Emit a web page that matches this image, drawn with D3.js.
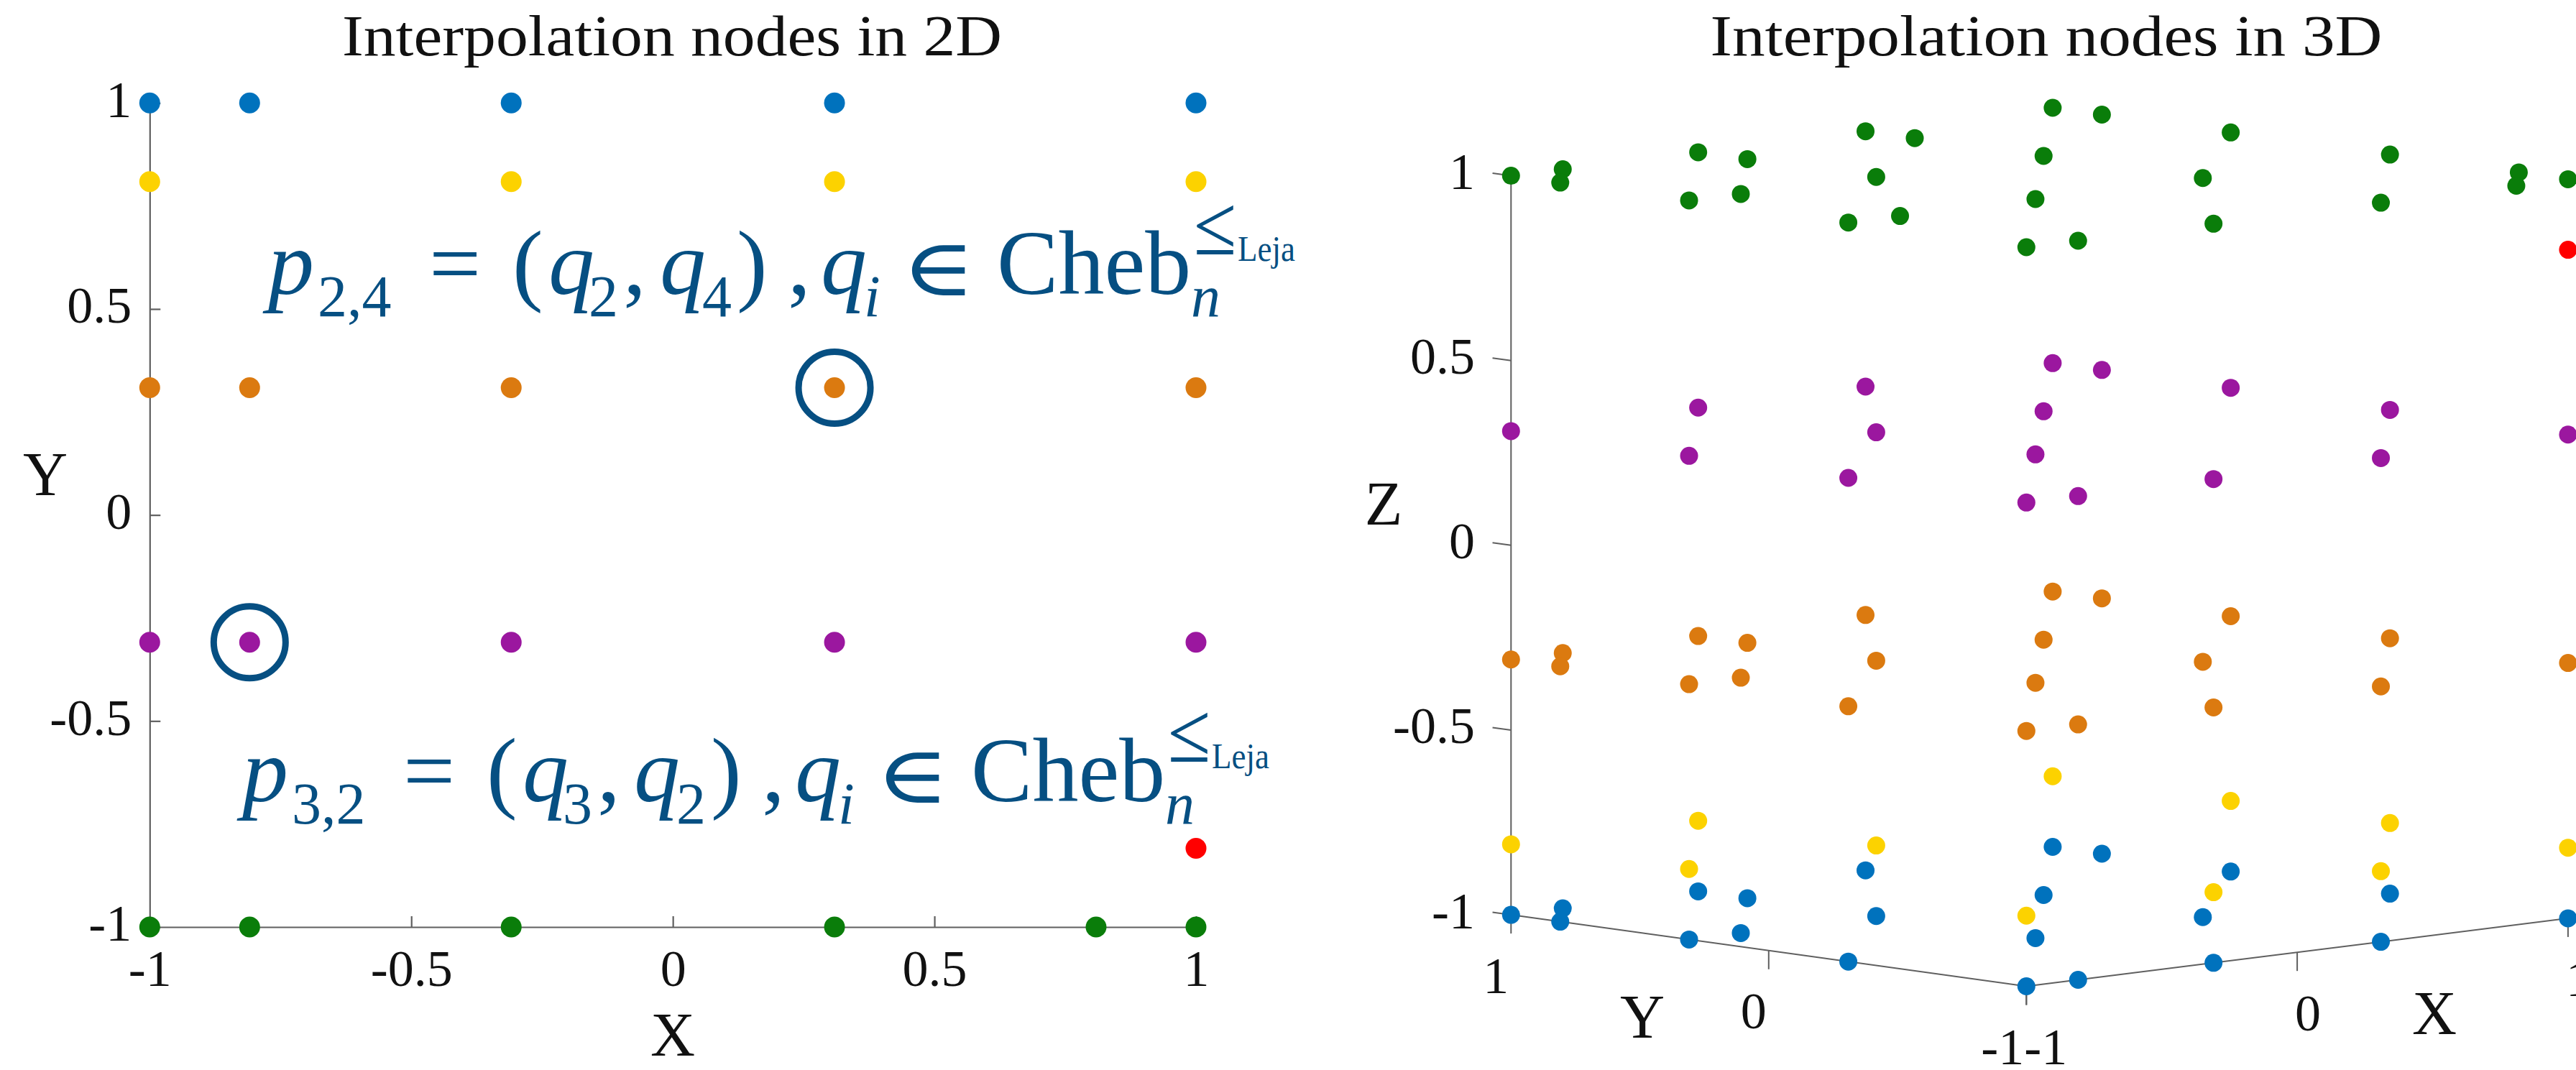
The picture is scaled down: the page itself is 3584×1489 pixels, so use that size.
<!DOCTYPE html>
<html>
<head>
<meta charset="utf-8">
<script src="https://cdn.jsdelivr.net/npm/d3@7"></script>
<style>
  html, body { margin: 0; padding: 0; background: #ffffff; overflow: hidden; }
  svg { display: block; }
</style>
</head>
<body>
<svg id="fig" width="3584" height="1489"></svg>
<script>
// ---------------------------------------------------------------
// Node data
// ---------------------------------------------------------------

// 2D nodes, one row per Y value; each row lists its X values
const rowY2D = [1, 0.809, 0.309, -0.309, -0.809, -1];
const rowX2D = [
  [-1, -0.809, -0.309, 0.309, 1],
  [-1, -0.309, 0.309, 1],
  [-1, -0.809, -0.309, 0.309, 1],
  [-1, -0.809, -0.309, 0.309, 1],
  [1],
  [-1, -0.809, -0.309, 0.309, 0.809, 1]
];
const rowColor2D = ["#0072bd", "#fcd200", "#db7a10", "#9b179f", "#ff0000", "#0a7d0a"];

// 3D nodes, one layer per Z value; each layer lists its (X, Y) pairs
const layerZ3D = [1, 0.809, 0.309, -0.309, -0.809, -1];
const layerXY3D = [
  [[-1,1],[-0.809,1],[-0.309,1],[0.309,1],[1,1],
   [-1,0.809],[-0.309,0.809],[0.309,0.809],[1,0.809],
   [-1,0.309],[-0.809,0.309],[-0.309,0.309],[0.309,0.309],[1,0.309],
   [-1,-0.309],[-0.809,-0.309],[-0.309,-0.309],[0.309,-0.309],[1,-0.309],
   [1,-0.809],
   [-1,-1],[-0.809,-1],[-0.309,-1],[0.309,-1],[0.809,-1],[1,-1]],
  [[1,-1]],
  [[-1,1],[-0.309,1],[0.309,1],[1,1],
   [1,0.809],
   [-1,0.309],[-0.309,0.309],[0.309,0.309],[1,0.309],
   [-1,-0.309],[-0.309,-0.309],[1,-0.309],
   [-1,-1],[-0.809,-1],[-0.309,-1],[0.309,-1],[1,-1]],
  [[-1,1],[-0.809,1],[-0.309,1],[0.309,1],[1,1],
   [-1,0.809],[-0.309,0.809],[1,0.809],
   [-1,0.309],[-0.809,0.309],[-0.309,0.309],[0.309,0.309],[1,0.309],
   [-1,-0.309],[-0.309,-0.309],[0.309,-0.309],[1,-0.309],
   [-1,-1],[-0.809,-1],[-0.309,-1],[0.309,-1],[1,-1]],
  [[-1,1],[-0.309,1],[1,1],
   [-1,0.309],[-0.309,0.309],[1,0.309],
   [1,-0.309],
   [-1,-1],[-0.309,-1],[0.309,-1],[1,-1]],
  [[-1,1],[-0.809,1],[-0.309,1],[0.309,1],[1,1],
   [-1,0.809],[-0.309,0.809],[1,0.809],
   [-1,0.309],[-0.809,0.309],[-0.309,0.309],[0.309,0.309],[1,0.309],
   [-1,-0.309],[-0.309,-0.309],[0.309,-0.309],[1,-0.309],
   [-1,-1],[-0.809,-1],[-0.309,-1],[0.309,-1],[1,-1]]
];
const layerColor3D = ["#0a7d0a", "#ff0000", "#9b179f", "#db7a10", "#fcd200", "#0072bd"];

// axis ticks
const ticks2D = [-1, -0.5, 0, 0.5, 1];
const tickLabels2D = ["-1", "-0.5", "0", "0.5", "1"];
const ticksZ3D = [-1, -0.5, 0, 0.5, 1];
const tickLabelsZ3D = ["-1", "-0.5", "0", "0.5", "1"];
const ticksXY3D = [-1, 0, 1];
const tickLabelsXY3D = ["-1", "0", "1"];

// highlighted 2D nodes and their annotations
const highlighted2D = [[0.309, 0.309], [-0.809, -0.309]];
const annotationIdx = [
  { p: "2,4", a: "2", b: "4" },
  { p: "3,2", a: "3", b: "2" }
];

// ---------------------------------------------------------------
// Styling
// ---------------------------------------------------------------
const SERIF = "'Liberation Serif', 'Times New Roman', serif";
const INK = "#111111";
const AXIS = "#5f5f5f";
const NOTE = "#064f82";
const TICK_FS = 72;
const LABEL_FS = 86;

const svg = d3.select("#fig");
svg.append("rect").attr("width", 3584).attr("height", 1489).attr("fill", "#ffffff");

// ink extents of a glyph, measured on a canvas at 100px
const measureCtx = document.createElement("canvas").getContext("2d");
function inkBox(str, family) {
  measureCtx.font = `100px ${family}`;
  const m = measureCtx.measureText(str);
  return {
    left: m.actualBoundingBoxLeft, right: m.actualBoundingBoxRight,
    ascent: m.actualBoundingBoxAscent, descent: m.actualBoundingBoxDescent
  };
}

// ---------------------------------------------------------------
// Left panel: 2D nodes
// ---------------------------------------------------------------
const x2 = d3.scaleLinear().domain([-1, 1]).range([208.3, 1664]);
const y2 = d3.scaleLinear().domain([-1, 1]).range([1290, 143.3]);

const g2 = svg.append("g");

g2.append("text")
  .attr("x", 935).attr("y", 77)
  .attr("text-anchor", "middle")
  .attr("font-family", SERIF).attr("font-size", 80).attr("fill", INK)
  .attr("textLength", 918).attr("lengthAdjust", "spacingAndGlyphs")
  .text("Interpolation nodes in 2D");

const xAxis2 = g2.append("g")
  .attr("transform", `translate(0,${y2(-1)})`)
  .call(d3.axisBottom(x2).tickValues(ticks2D)
        .tickFormat((d, i) => tickLabels2D[i])
        .tickSizeInner(-15).tickSizeOuter(0).tickPadding(31));
const yAxis2 = g2.append("g")
  .attr("transform", `translate(${x2(-1)},0)`)
  .call(d3.axisLeft(y2).tickValues(ticks2D)
        .tickFormat((d, i) => tickLabels2D[i])
        .tickSizeInner(-15).tickSizeOuter(0).tickPadding(25));

[xAxis2, yAxis2].forEach(ax => {
  ax.select(".domain").attr("stroke", AXIS).attr("stroke-width", 2.2);
  ax.selectAll(".tick line").attr("stroke", AXIS).attr("stroke-width", 2.2);
  ax.selectAll(".tick text")
    .attr("font-family", SERIF).attr("font-size", TICK_FS).attr("fill", INK);
});
yAxis2.selectAll(".tick text").attr("dy", "0.26em");

g2.append("text")
  .attr("x", 936).attr("y", 1440).attr("dy", "0.34em")
  .attr("text-anchor", "middle")
  .attr("font-family", SERIF).attr("font-size", LABEL_FS).attr("fill", INK)
  .text("X");
g2.append("text")
  .attr("x", 63).attr("y", 660).attr("dy", "0.34em")
  .attr("text-anchor", "middle")
  .attr("font-family", SERIF).attr("font-size", LABEL_FS).attr("fill", INK)
  .text("Y");

const pts2D = [];
rowY2D.forEach((yv, r) => rowX2D[r].forEach(xv => pts2D.push({ x: xv, y: yv, c: rowColor2D[r] })));

g2.append("g").selectAll("circle").data(pts2D).join("circle")
  .attr("cx", d => x2(d.x)).attr("cy", d => y2(d.y))
  .attr("r", 14.5).attr("fill", d => d.c);

// ring marks around the highlighted nodes
g2.append("g").selectAll("circle").data(highlighted2D).join("circle")
  .attr("cx", d => x2(d[0])).attr("cy", d => y2(d[1]))
  .attr("r", 50).attr("fill", "none")
  .attr("stroke", NOTE).attr("stroke-width", 9);

// formula annotations: p_{i,j} = (q_i, q_j), q_i in Cheb_n^{<=Leja}
function formula(sel, ids, x0, y0) {
  const parts = [
    { t: "p",    dx: 0,    dy: 0,   fs: 128, it: true },
    { t: ids.p,  dx: 69,   dy: 31,  fs: 82 },
    { t: "=",    dx: 224,  dy: 0,   fs: 128 },
    { t: "(",    dx: 340,  dy: 0,   fs: 128 },
    { t: "q",    dx: 390,  dy: 0,   fs: 128, it: true },
    { t: ids.a,  dx: 446,  dy: 31,  fs: 82 },
    { t: ",",    dx: 494,  dy: 0,   fs: 128 },
    { t: "q",    dx: 545,  dy: 0,   fs: 128, it: true },
    { t: ids.b,  dx: 604,  dy: 31,  fs: 82 },
    { t: ")",    dx: 652,  dy: 0,   fs: 128 },
    { t: ",",    dx: 723,  dy: 0,   fs: 128 },
    { t: "q",    dx: 769,  dy: 0,   fs: 128, it: true },
    { t: "i",    dx: 829,  dy: 31,  fs: 82,  it: true },
    { t: "Cheb", dx: 1014, dy: 0,   fs: 128 },
    { t: "n",    dx: 1284, dy: 31,  fs: 82,  it: true },
    { t: "Leja", dx: 1349, dy: -46, fs: 50,  len: 80 }
  ];
  // symbols fitted to an ink box [left, top, right, bottom] relative to the anchor
  const symbols = [
    { t: "\u2208", font: "'DejaVu Serif'",     box: [895, -68, 970, 2] },
    { t: "\u2264", font: "'Liberation Serif'", box: [1292, -124, 1343, -55] }
  ];
  const g = sel.append("g")
    .attr("font-family", SERIF).attr("fill", NOTE);
  parts.forEach(p => {
    const t = g.append("text")
      .attr("x", x0 + p.dx).attr("y", y0 + p.dy)
      .attr("font-size", p.fs)
      .attr("font-style", p.it ? "italic" : "normal")
      .text(p.t);
    if (p.len) t.attr("textLength", p.len).attr("lengthAdjust", "spacingAndGlyphs");
  });
  symbols.forEach(s => {
    const ink = inkBox(s.t, s.font);
    const [l, tp, r, b] = s.box;
    const fs = 100 * (b - tp) / (ink.ascent + ink.descent);
    const k = fs / 100;
    const sx = (r - l) / ((ink.left + ink.right) * k);
    const left = x0 + l;
    g.append("text")
      .attr("transform", `translate(${left},0) scale(${sx},1) translate(${-left},0)`)
      .attr("x", left + ink.left * k)
      .attr("y", y0 + tp + ink.ascent * k)
      .attr("font-family", s.font)
      .attr("font-size", fs)
      .text(s.t);
  });
}
formula(g2, annotationIdx[0], 373, 409);
formula(g2, annotationIdx[1], 337, 1115);

// ---------------------------------------------------------------
// Right panel: 3D nodes in an oblique projection
// ---------------------------------------------------------------
const O3 = [2837.6, 1275.5];                 // screen position of (0, 0, -1)
const pXx = d3.scaleLinear().domain([-1, 1]).range([-376.8, 376.8]);
const pXy = d3.scaleLinear().domain([-1, 1]).range([47.3, -47.3]);
const pYx = d3.scaleLinear().domain([-1, 1]).range([358.5, -358.5]);
const pYy = d3.scaleLinear().domain([-1, 1]).range([49.7, -49.7]);
const pZ  = d3.scaleLinear().domain([-1, 1]).range([0, -1028.5]);
const proj = (X, Y, Z) => [O3[0] + pXx(X) + pYx(Y), O3[1] + pXy(X) + pYy(Y) + pZ(Z)];

const g3 = svg.append("g");

g3.append("text")
  .attr("x", 2847).attr("y", 77)
  .attr("text-anchor", "middle")
  .attr("font-family", SERIF).attr("font-size", 80).attr("fill", INK)
  .attr("textLength", 935).attr("lengthAdjust", "spacingAndGlyphs")
  .text("Interpolation nodes in 3D");

const line = d3.line();
const axisSegs = [
  [proj(-1, 1, -1), proj(-1, 1, 1)],     // Z axis
  [proj(-1, 1, -1), proj(-1, -1, -1)],   // Y axis
  [proj(-1, -1, -1), proj(1, -1, -1)]    // X axis
];
g3.append("g").selectAll("path").data(axisSegs).join("path")
  .attr("d", d => line(d)).attr("fill", "none")
  .attr("stroke", AXIS).attr("stroke-width", 2);

// tick marks
const TL = 26;
const yDir = [pYx(1) - pYx(0), pYy(1) - pYy(0)];
const yLen = Math.hypot(yDir[0], yDir[1]);
const zTickSegs = ticksZ3D.map(z => {
  const b = proj(-1, 1, z);
  return [b, [b[0] + yDir[0] / yLen * TL, b[1] + yDir[1] / yLen * TL]];
});
const yTickSegs = ticksXY3D.map(v => { const b = proj(-1, v, -1); return [b, [b[0], b[1] + TL]]; });
const xTickSegs = ticksXY3D.map(v => { const b = proj(v, -1, -1); return [b, [b[0], b[1] + TL]]; });
g3.append("g").selectAll("path").data([...zTickSegs, ...yTickSegs, ...xTickSegs]).join("path")
  .attr("d", d => line(d)).attr("fill", "none")
  .attr("stroke", AXIS).attr("stroke-width", 2);

// tick labels
const tickText = (sel) => sel.attr("font-family", SERIF).attr("font-size", TICK_FS).attr("fill", INK);
g3.append("g").selectAll("text").data(ticksZ3D).join("text")
  .call(tickText)
  .attr("x", 2052).attr("y", d => proj(-1, 1, d)[1] - 6).attr("dy", "0.34em")
  .attr("text-anchor", "end")
  .text((d, i) => tickLabelsZ3D[i]);
g3.append("g").selectAll("text").data(ticksXY3D).join("text")
  .call(tickText)
  .attr("x", d => proj(-1, d, -1)[0] - 3).attr("y", d => proj(-1, d, -1)[1] + 84).attr("dy", "0.34em")
  .attr("text-anchor", "end")
  .text((d, i) => tickLabelsXY3D[i]);
g3.append("g").selectAll("text").data(ticksXY3D).join("text")
  .call(tickText)
  .attr("x", d => proj(d, -1, -1)[0] - 3).attr("y", d => proj(d, -1, -1)[1] + 84).attr("dy", "0.34em")
  .attr("text-anchor", "start")
  .text((d, i) => tickLabelsXY3D[i]);

// axis labels
[["Z", 1925, 701], ["Y", 2285, 1415], ["X", 3387, 1410]].forEach(([s, x, y]) => {
  g3.append("text").attr("x", x).attr("y", y).attr("dy", "0.34em")
    .attr("text-anchor", "middle")
    .attr("font-family", SERIF).attr("font-size", LABEL_FS).attr("fill", INK)
    .text(s);
});

const pts3D = [];
layerZ3D.forEach((z, l) => layerXY3D[l].forEach(([x, y]) => pts3D.push({ x, y, z, c: layerColor3D[l] })));

g3.append("g").selectAll("circle").data(pts3D).join("circle")
  .attr("cx", d => proj(d.x, d.y, d.z)[0]).attr("cy", d => proj(d.x, d.y, d.z)[1])
  .attr("r", 12.5).attr("fill", d => d.c);
</script>
</body>
</html>
